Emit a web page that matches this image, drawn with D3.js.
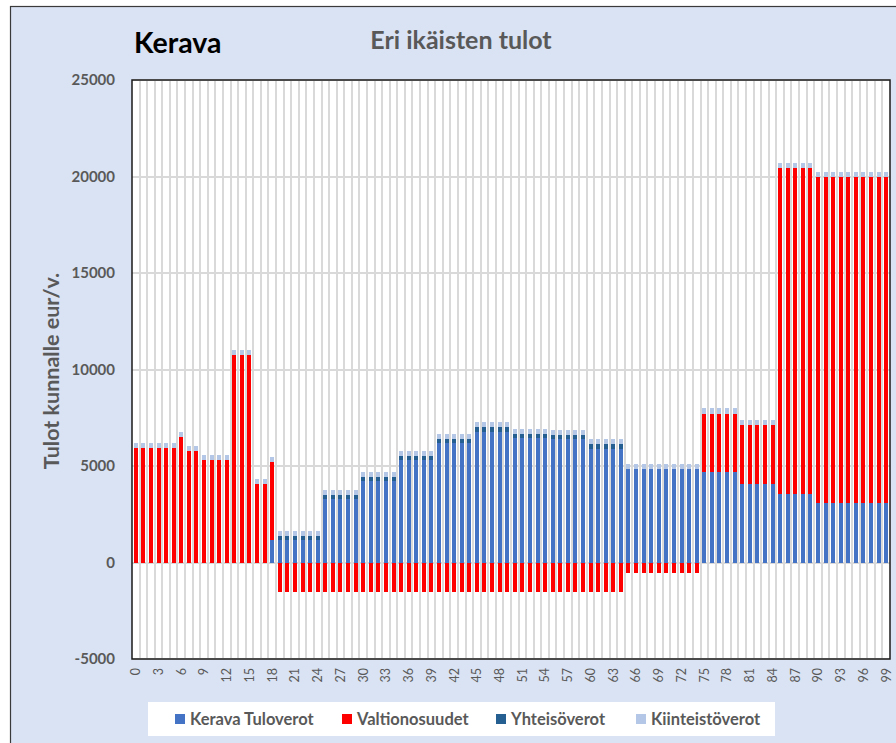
<!DOCTYPE html>
<html>
<head>
<meta charset="utf-8">
<title>Kerava - Eri ikäisten tulot</title>
<style>
  body { margin: 0; background: #fff; }
  text { font-family: Lato, "Open Sans", sans-serif; }
</style>
</head>
<body>
<script src="https://cdn.jsdelivr.net/npm/d3@7/dist/d3.min.js"></script>
<script>
  // ages 0..99
  const ages = [
    0,1,2,3,4,5,6,7,8,9, 10,11,12,13,14,15,16,17,18,19,
    20,21,22,23,24,25,26,27,28,29, 30,31,32,33,34,35,36,37,38,39,
    40,41,42,43,44,45,46,47,48,49, 50,51,52,53,54,55,56,57,58,59,
    60,61,62,63,64,65,66,67,68,69, 70,71,72,73,74,75,76,77,78,79,
    80,81,82,83,84,85,86,87,88,89, 90,91,92,93,94,95,96,97,98,99
  ];

  const tuloverot = [
    0,0,0,0,0,0,0,0,0,0,
    0,0,0,0,0,0,0,0,1140,1150,
    1150,1150,1150,1150,1150,3290,3290,3290,3290,3290,
    4240,4240,4240,4240,4240,5300,5300,5300,5300,5300,
    6170,6170,6170,6170,6170,6780,6780,6780,6780,6780,
    6450,6450,6450,6450,6450,6400,6400,6400,6400,6400,
    5870,5870,5870,5870,5870,4830,4830,4830,4830,4830,
    4830,4830,4830,4830,4830,4690,4690,4690,4690,4690,
    4050,4050,4050,4050,4050,3530,3530,3530,3530,3530,
    3100,3100,3100,3100,3100,3100,3100,3100,3100,3100
  ];

  const valtionosuudet = [
    5940,5940,5940,5940,5940,5940,6490,5760,5760,5300,
    5300,5300,5300,10730,10730,10730,4070,4070,4090,-1520,
    -1520,-1520,-1520,-1520,-1520,-1520,-1520,-1520,-1520,-1520,
    -1520,-1520,-1520,-1520,-1520,-1520,-1520,-1520,-1520,-1520,
    -1520,-1520,-1520,-1520,-1520,-1520,-1520,-1520,-1520,-1520,
    -1520,-1520,-1520,-1520,-1520,-1520,-1520,-1520,-1520,-1520,
    -1520,-1520,-1520,-1520,-1520,-520,-520,-520,-520,-520,
    -520,-520,-520,-520,-520,3030,3030,3030,3030,3030,
    3050,3050,3050,3050,3050,16890,16890,16890,16890,16890,
    16860,16860,16860,16860,16860,16860,16860,16860,16860,16860
  ];

  const yhteisoverot = [
    0,0,0,0,0,0,0,0,0,0,
    0,0,0,0,0,0,0,0,0,230,
    230,230,230,230,230,200,200,200,200,200,
    210,210,210,210,210,220,220,220,220,220,
    210,210,210,210,210,240,240,240,240,240,
    230,230,230,230,230,230,230,230,230,230,
    260,260,260,260,260,0,0,0,0,0,
    0,0,0,0,0,0,0,0,0,0,
    0,0,0,0,0,0,0,0,0,0,
    0,0,0,0,0,0,0,0,0,0
  ];

  const kiinteistoverot = [
    260,260,260,260,260,260,260,260,260,260,
    260,260,260,260,260,260,260,260,260,260,
    260,260,260,260,260,260,260,260,260,260,
    260,260,260,260,260,260,260,260,260,260,
    260,260,260,260,260,260,260,260,260,260,
    260,260,260,260,260,260,260,260,260,260,
    260,260,260,260,260,260,260,260,260,260,
    260,260,260,260,260,260,260,260,260,260,
    260,260,260,260,260,260,260,260,260,260,
    260,260,260,260,260,260,260,260,260,260
  ];

  const seriesNames = ["Kerava Tuloverot", "Valtionosuudet", "Yhteisöverot", "Kiinteistöverot"];
  const seriesColors = ["#4472c4", "#ff0000", "#255e91", "#b4c7e7"];
  const yTicks = [-5000, 0, 5000, 10000, 15000, 20000, 25000];

  const width = 896, height = 743;
  const plot = { left: 132, top: 80, right: 890, bottom: 659 };
  const grey = "#595959";

  const rows = ages.map((a, i) => ({
    age: a,
    "Kerava Tuloverot": tuloverot[i],
    "Valtionosuudet": valtionosuudet[i],
    "Yhteisöverot": yhteisoverot[i],
    "Kiinteistöverot": kiinteistoverot[i]
  }));

  const stacked = d3.stack()
    .keys(seriesNames)
    .offset(d3.stackOffsetDiverging)(rows);

  const x = d3.scaleBand()
    .domain(ages)
    .range([plot.left, plot.right])
    .paddingInner(0.45)
    .paddingOuter(0.225);

  const y = d3.scaleLinear()
    .domain([-5000, 25000])
    .range([plot.bottom, plot.top]);

  const color = d3.scaleOrdinal().domain(seriesNames).range(seriesColors);

  const svg = d3.select("body").append("svg")
    .attr("width", width)
    .attr("height", height);

  // chart area
  svg.append("rect")
    .attr("x", 10.5).attr("y", 6.5)
    .attr("width", width + 20).attr("height", height + 20)
    .attr("fill", "#dae3f3")
    .attr("stroke", "#3a3a3a")
    .attr("stroke-width", 1.2);

  svg.append("rect")
    .attr("x", plot.left).attr("y", plot.top)
    .attr("width", plot.right - plot.left).attr("height", plot.bottom - plot.top)
    .attr("fill", "#fff");

  // gridlines (snapped to whole pixels so the gaps stay visible)
  const step = x.step();
  svg.append("g")
    .attr("shape-rendering", "crispEdges")
    .selectAll("line")
    .data(ages.slice(1))
    .join("line")
    .attr("x1", (d, i) => Math.round(plot.left + (i + 1) * step))
    .attr("x2", (d, i) => Math.round(plot.left + (i + 1) * step))
    .attr("y1", plot.top).attr("y2", plot.bottom)
    .attr("stroke", "#d9d9d9")
    .attr("stroke-width", 2);

  svg.append("g")
    .attr("shape-rendering", "crispEdges")
    .selectAll("line")
    .data(yTicks)
    .join("line")
    .attr("x1", plot.left).attr("x2", plot.right)
    .attr("y1", d => Math.round(y(d))).attr("y2", d => Math.round(y(d)))
    .attr("stroke", "#d9d9d9")
    .attr("stroke-width", 2);

  // bars
  const barW = Math.round(x.bandwidth());
  svg.append("g")
    .attr("shape-rendering", "crispEdges")
    .selectAll("g")
    .data(stacked)
    .join("g")
    .attr("fill", d => color(d.key))
    .selectAll("rect")
    .data(d => d)
    .join("rect")
    .attr("x", d => Math.round(x(d.data.age) + x.bandwidth() / 2 - barW / 2))
    .attr("width", barW)
    .attr("y", d => y(Math.max(d[0], d[1])))
    .attr("height", d => Math.abs(y(d[0]) - y(d[1])));

  // plot border
  svg.append("rect")
    .attr("x", plot.left).attr("y", plot.top)
    .attr("width", plot.right - plot.left).attr("height", plot.bottom - plot.top)
    .attr("fill", "none")
    .attr("stroke", "#1a1a1a")
    .attr("stroke-width", 1.5);

  // y axis labels
  svg.append("g").selectAll("text")
    .data(yTicks)
    .join("text")
    .attr("x", 115)
    .attr("y", d => y(d))
    .attr("dy", "0.35em")
    .attr("text-anchor", "end")
    .attr("font-size", 15)
    .attr("font-weight", "bold")
    .attr("fill", grey)
    .text(d => d);

  // x axis labels
  svg.append("g").selectAll("text")
    .data(ages.filter(a => a % 3 === 0))
    .join("text")
    .attr("transform", d => `translate(${x(d) + x.bandwidth() / 2},668) rotate(-90)`)
    .attr("dy", "0.35em")
    .attr("text-anchor", "end")
    .attr("font-size", 12.5)
    .attr("fill", grey)
    .text(d => d);

  // titles
  svg.append("text")
    .attr("x", 134).attr("y", 53)
    .attr("font-size", 28.5)
    .attr("font-weight", "bold")
    .attr("fill", "#000")
    .text("Kerava");

  svg.append("text")
    .attr("x", 461).attr("y", 49)
    .attr("text-anchor", "middle")
    .attr("font-size", 25)
    .attr("font-weight", "bold")
    .attr("fill", grey)
    .text("Eri ikäisten tulot");

  svg.append("text")
    .attr("transform", "translate(51,371) rotate(-90)")
    .attr("dy", "0.35em")
    .attr("text-anchor", "middle")
    .attr("font-size", 21.5)
    .attr("font-weight", "bold")
    .attr("fill", grey)
    .text("Tulot kunnalle eur/v.");

  // legend
  const legend = svg.append("g");
  legend.append("rect")
    .attr("x", 148).attr("y", 702)
    .attr("width", 627).attr("height", 34)
    .attr("fill", "#fff");

  const legendX = [175, 342, 496, 636];
  const item = legend.selectAll("g.item")
    .data(seriesNames)
    .join("g")
    .attr("class", "item")
    .attr("transform", (d, i) => `translate(${legendX[i]},719)`);

  item.append("rect")
    .attr("x", 0).attr("y", -5)
    .attr("width", 10).attr("height", 10)
    .attr("fill", d => color(d));

  item.append("text")
    .attr("x", 15)
    .attr("dy", "0.35em")
    .attr("font-size", 16.5)
    .attr("font-weight", "bold")
    .attr("fill", grey)
    .text(d => d);
</script>
</body>
</html>
